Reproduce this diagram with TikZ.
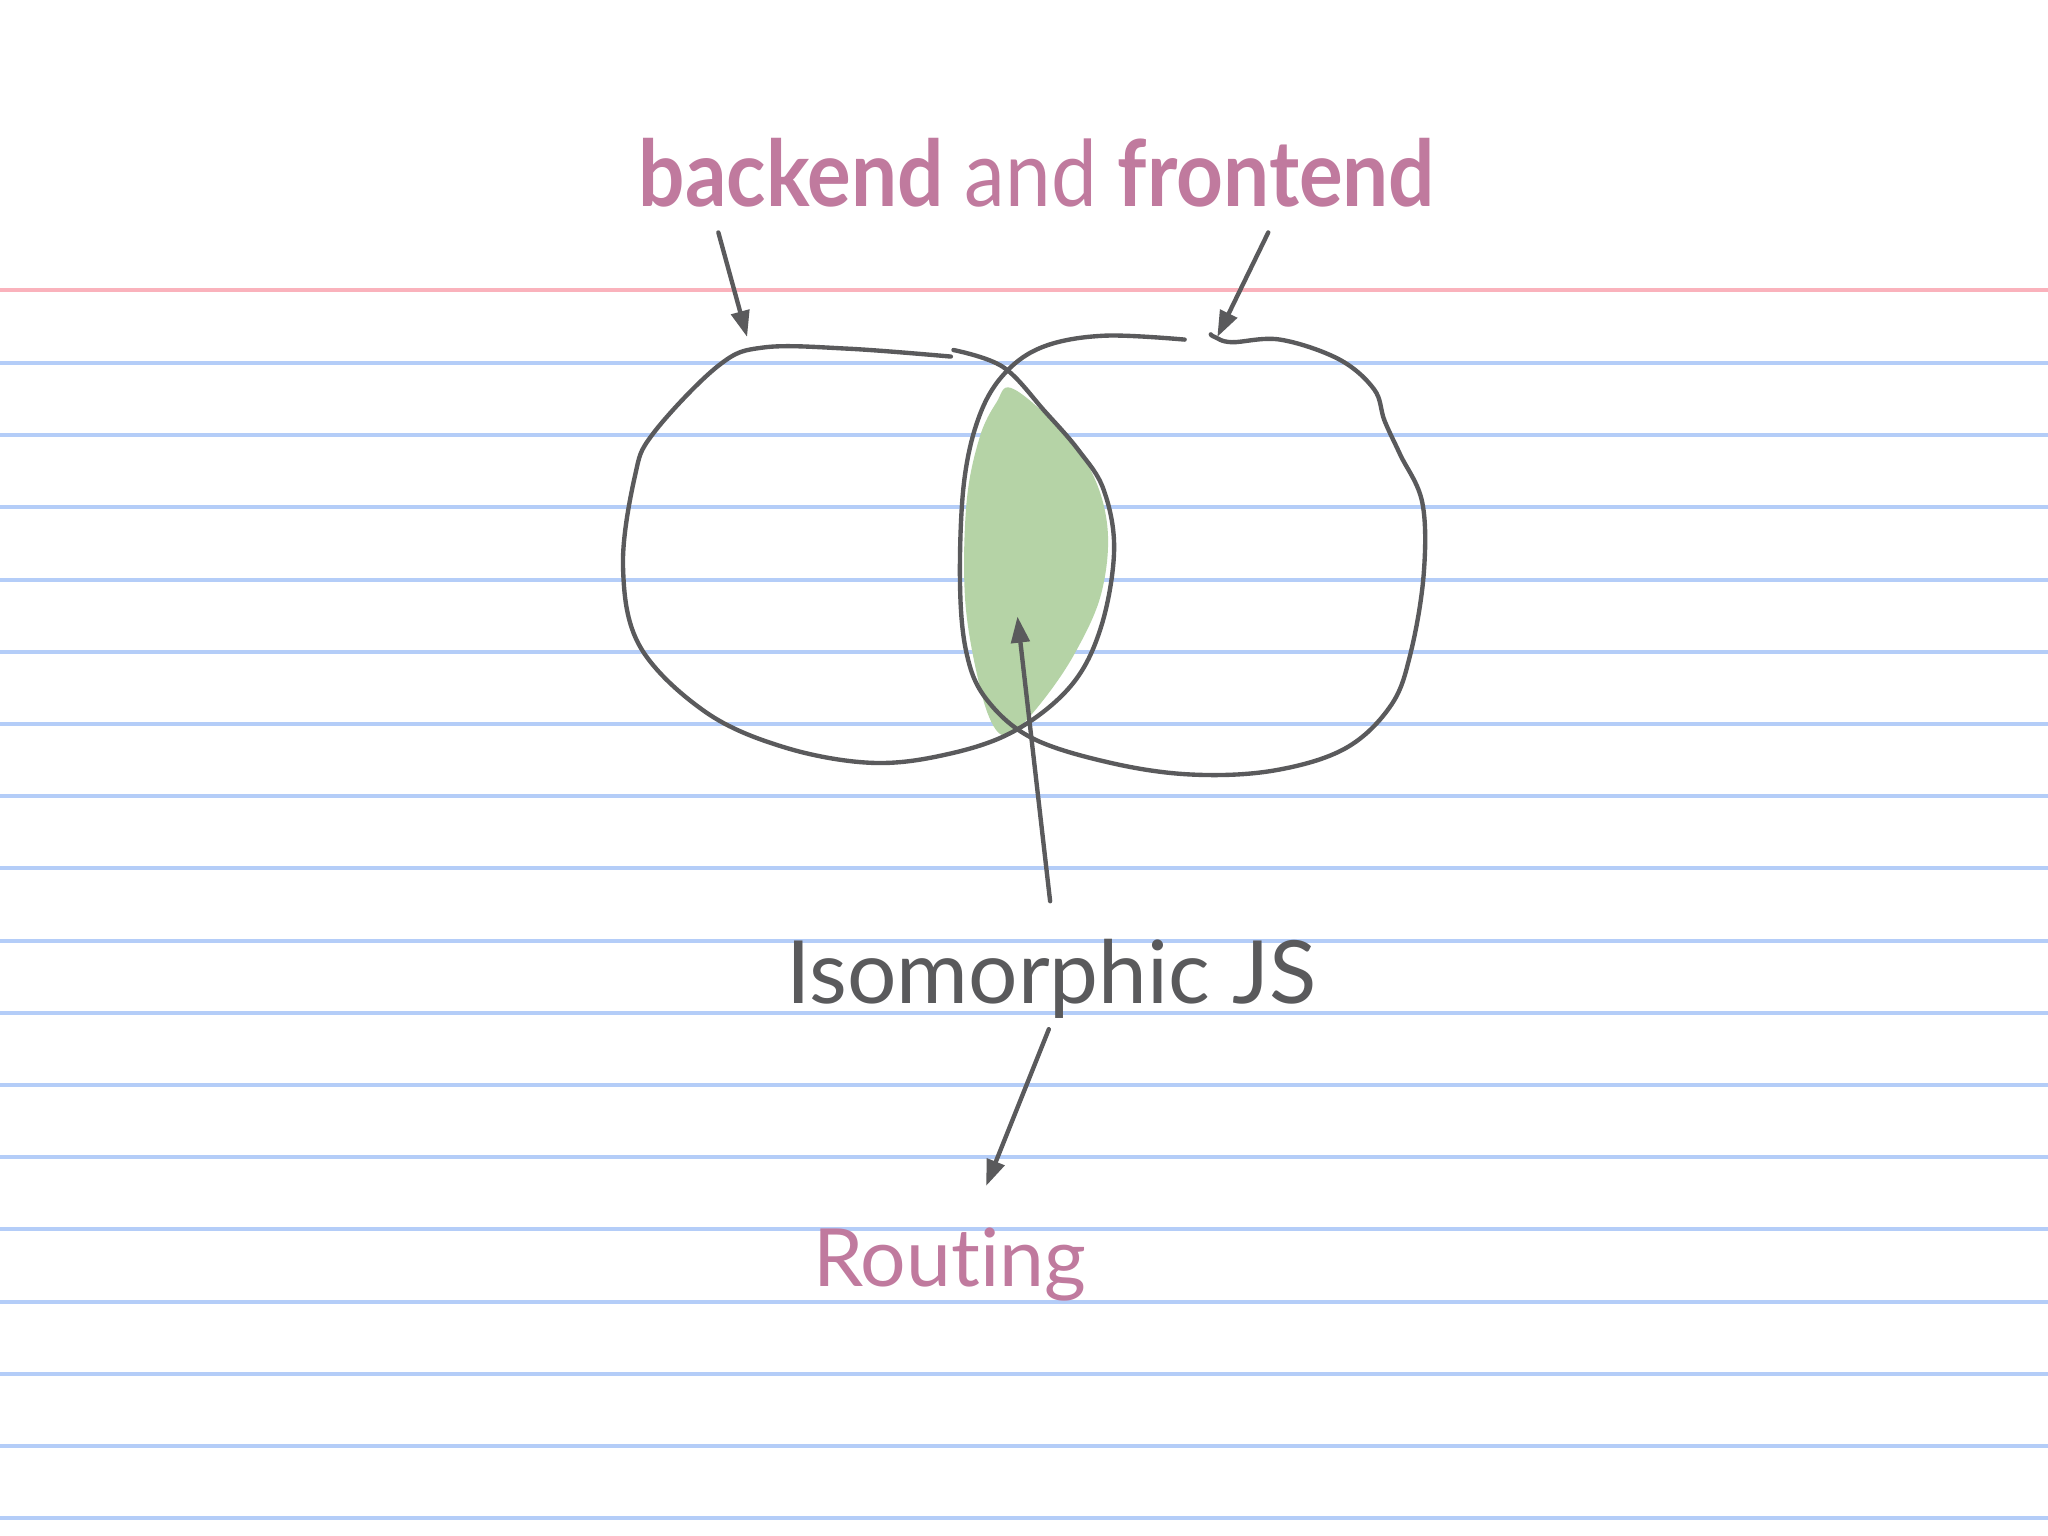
\documentclass[tikz,border=0pt]{standalone}
\usepackage{fontspec}
\setmainfont{Lato}[Ligatures=CommonOff]
\newfontfamily\titlefont{Lato}[Ligatures=CommonOff,FakeStretch=0.89]
\usetikzlibrary{arrows.meta,positioning}
\definecolor{pinkink}{RGB}{192,122,158}
\definecolor{grayink}{RGB}{90,90,92}
\definecolor{lensgreen}{RGB}{181,211,166}
\definecolor{ruleblue}{RGB}{180,205,248}
\definecolor{rulered}{RGB}{250,178,188}

\begin{document}
\begin{tikzpicture}[x=0.01cm,y=-0.01cm,line join=round,line cap=round]
	  \tikzstyle{outline}=[draw=grayink,line width=0.95pt]
	  \tikzstyle{pointer}=[draw=grayink,line width=0.95pt,-{Triangle[length=0.2cm,width=0.14cm]}]
	  \tikzstyle{pinktext}=[text=pinkink,inner sep=0pt]
	  \tikzstyle{graytext}=[text=grayink,inner sep=0pt]

	  \fill[white] (0,0) rectangle (1568,1176);
	  \useasboundingbox (0,0) rectangle (1568,1176);

	  % ruled paper
	  \draw[rulered,line width=0.9pt] (0,222) -- (1568,222);
	  \foreach \k in {0,...,16}
	    \draw[ruleblue,line width=0.9pt] (0,{277.9+55.28*\k}) -- (1568,{277.9+55.28*\k});

	  % overlap
	  \fill[lensgreen] plot[smooth cycle,tension=0.6] coordinates {
	    (774,297) (805,322) (835,360) (848,405) (843,455) (823,500)
	    (798,537) (775,561) (762,558) (750,525) (739,460) (740,385)
	    (750,335) (763,308)};

	  % backend
	  \draw[outline] plot[smooth,tension=0.6] coordinates {
	    (728,273) (650,267) (585,266) (550,280) (500,332) (486,365)
	    (477,434) (490,495) (540,545) (600,572) (666,584) (723,578)
	    (776,560) (820,525) (843,480) (853,421) (845,375) (826,345)
	    (800,315) (768,281) (730,268)};

	  % frontend
	  \draw[outline] plot[smooth,tension=0.6] coordinates {
	    (907,260) (846,257) (800,265) (770,285) (750,318) (738,370)
	    (735,446) (740,500) (755,535) (790,565) (850,584) (912,593)
	    (975,590) (1030,573) (1065,540) (1080,500) (1090,440) (1089,385)
	    (1072,348) (1060,322) (1052,298) (1025,275) (980,260) (943,262)
	    (930,258) (927,256)};

	  \node[pinktext,anchor=base] (title) at (794,158)
	    {\titlefont\fontsize{20}{24}\selectfont\textbf{backend} and \textbf{frontend}};
	  \node[graytext,anchor=base] (iso) at (805,768)
	    {\fontsize{19}{23}\selectfont Isomorphic JS};
	  \node[pinktext,anchor=base] (routing) at (727,985)
	    {\fontsize{17.5}{21}\selectfont Routing};

	  \coordinate (back tail) at (550,178);
	  \coordinate (back tip) at (572,258);
	  \coordinate (front tail) at (971,178);
	  \coordinate (front tip) at (932,258);
	  \coordinate (iso up) at (804,690);
	  \coordinate (lens tip) at (779,472);
	  \coordinate (iso down) at (803,788);
	  \coordinate (routing tip) at (755,908);

	  \path
	  (back tail) edge[pointer] (back tip)
	  (front tail) edge[pointer] (front tip)
	  (iso up) edge[pointer] (lens tip)
	  (iso down) edge[pointer] (routing tip)
	  ;
	\end{tikzpicture}
\end{document}
